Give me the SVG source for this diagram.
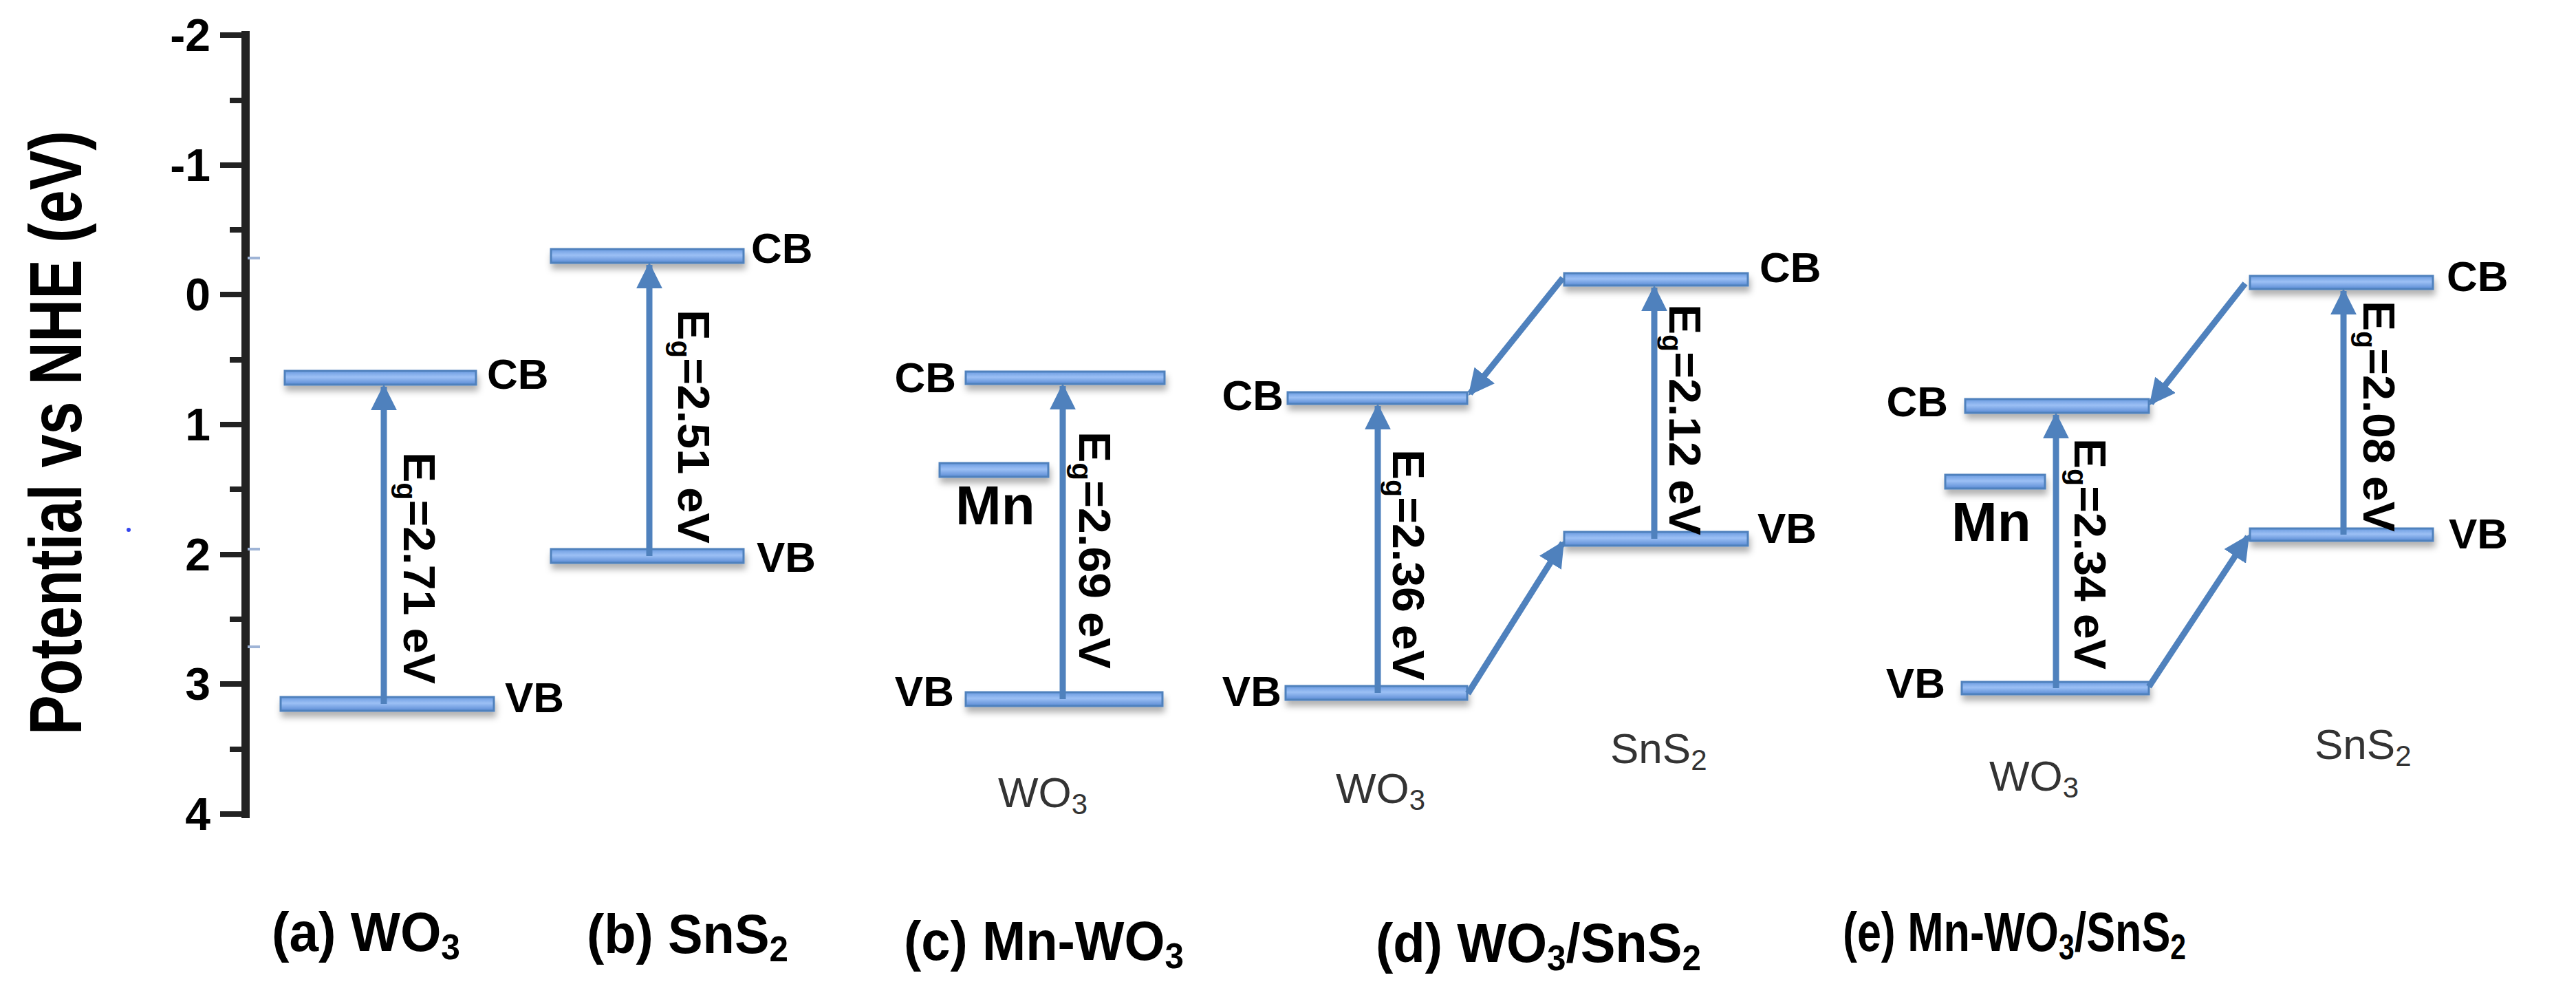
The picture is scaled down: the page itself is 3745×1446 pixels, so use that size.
<svg xmlns="http://www.w3.org/2000/svg" width="3745" height="1446" viewBox="0 0 3745 1446">
<defs>
<linearGradient id="barg" x1="0" y1="0" x2="0" y2="1">
<stop offset="0" stop-color="#6b9be0"/><stop offset="0.45" stop-color="#9cc0f5"/><stop offset="1" stop-color="#5a8bd4"/>
</linearGradient>
<filter id="sh" x="-10%" y="-50%" width="120%" height="300%">
<feDropShadow dx="2" dy="8" stdDeviation="5" flood-color="#000" flood-opacity="0.3"/>
</filter>
<marker id="ah" viewBox="0 0 10 10" refX="9" refY="5" markerWidth="4.2" markerHeight="4.2" orient="auto" markerUnits="strokeWidth">
<path d="M0,0 L10,5 L0,10 z" fill="#4f81bd"/>
</marker>
<style>
.bar{fill:url(#barg);stroke:#4f81bd;stroke-width:3;filter:url(#sh)}
.ln{stroke:#4f81bd;stroke-width:9;fill:none}
.lab{font-family:"Liberation Sans",Arial,sans-serif;font-weight:bold;font-size:62px;fill:#000}
.eg{font-family:"Liberation Sans",Arial,sans-serif;font-weight:bold;font-size:64px;fill:#000}
.mn{font-family:"Liberation Sans",Arial,sans-serif;font-weight:bold;font-size:80px;fill:#000}
.sub{font-family:"Liberation Sans",Arial,sans-serif;font-size:62px;fill:#333}
.cap{font-family:"Liberation Sans",Arial,sans-serif;font-weight:bold;font-size:80px;fill:#000}
.tk{font-family:"Liberation Sans",Arial,sans-serif;font-weight:bold;font-size:66px;fill:#000;text-anchor:end}
.axis{stroke:#222;stroke-width:12;fill:none}
.tick{stroke:#222;stroke-width:8}
</style>
</defs>
<rect width="3745" height="1446" fill="#fff"/>

<g id="axis">
<line class="axis" x1="357" y1="45" x2="357" y2="1189"/>
<g class="tick">
<line x1="320" y1="51" x2="357" y2="51"/><line x1="320" y1="240" x2="357" y2="240"/><line x1="320" y1="428" x2="357" y2="428"/><line x1="320" y1="617" x2="357" y2="617"/><line x1="320" y1="806" x2="357" y2="806"/><line x1="320" y1="994" x2="357" y2="994"/><line x1="320" y1="1183" x2="357" y2="1183"/>
<line x1="334" y1="146" x2="357" y2="146"/><line x1="334" y1="334" x2="357" y2="334"/><line x1="334" y1="523" x2="357" y2="523"/><line x1="334" y1="711" x2="357" y2="711"/><line x1="334" y1="900" x2="357" y2="900"/><line x1="334" y1="1089" x2="357" y2="1089"/>
</g>
<g stroke="#9fb4d6" stroke-width="4">
<line x1="360" y1="375" x2="378" y2="375"/><line x1="360" y1="798" x2="378" y2="798"/><line x1="360" y1="940" x2="378" y2="940"/>
</g>
<text class="tk" x="306" y="74">-2</text>
<text class="tk" x="306" y="263">-1</text>
<text class="tk" x="306" y="451">0</text>
<text class="tk" x="306" y="640">1</text>
<text class="tk" x="306" y="829">2</text>
<text class="tk" x="306" y="1017">3</text>
<text class="tk" x="306" y="1206">4</text>
<text transform="translate(118,1068) rotate(-90)" font-family="'Liberation Sans',Arial,sans-serif" font-weight="bold" font-size="108" textLength="878" lengthAdjust="spacingAndGlyphs">Potential vs NHE (eV)</text>
<circle cx="187" cy="770" r="3" fill="#3344ee"/>
</g>

<g id="zero-line"><line x1="322" y1="431" x2="3722" y2="431" stroke="#4f81bd" stroke-width="12" filter="url(#sh)"/></g>

<g id="panel-a">
<rect class="bar" x="414" y="539" width="278" height="20"/>
<rect class="bar" x="408" y="1013" width="310" height="20"/>
<text class="lab" x="708" y="565">CB</text>
<text class="lab" x="734" y="1035">VB</text>
<text class="eg" transform="translate(587,657) rotate(90)" textLength="337" lengthAdjust="spacingAndGlyphs">E<tspan font-size="40" dy="10">g</tspan><tspan dy="-10">=2.71 eV</tspan></text>
</g>
<g id="panel-b">
<rect class="bar" x="801" y="362" width="280" height="20"/>
<rect class="bar" x="801" y="798" width="280" height="20"/>
<text class="lab" x="1092" y="382">CB</text>
<text class="lab" x="1100" y="831">VB</text>
<text class="eg" transform="translate(986,450) rotate(90)" textLength="340" lengthAdjust="spacingAndGlyphs">E<tspan font-size="40" dy="10">g</tspan><tspan dy="-10">=2.51 eV</tspan></text>
</g>
<g id="panel-c">
<rect class="bar" x="1404" y="540" width="289" height="18"/>
<rect class="bar" x="1366" y="673" width="158" height="20"/>
<rect class="bar" x="1404" y="1006" width="286" height="20"/>
<text class="lab" x="1390" y="570" text-anchor="end">CB</text>
<text class="lab" x="1387" y="1026" text-anchor="end">VB</text>
<text class="mn" x="1389" y="762">Mn</text>
<text class="eg" transform="translate(1569,627) rotate(90)" textLength="345" lengthAdjust="spacingAndGlyphs">E<tspan font-size="40" dy="10">g</tspan><tspan dy="-10">=2.69 eV</tspan></text>
<text class="sub" x="1451" y="1173">WO<tspan font-size="42" dy="10">3</tspan></text>
</g>
<g id="panel-d">
<rect class="bar" x="1872" y="570" width="261" height="17"/>
<rect class="bar" x="1869" y="997" width="264" height="20"/>
<rect class="bar" x="2274" y="397" width="267" height="18"/>
<rect class="bar" x="2274" y="773" width="267" height="20"/>
<text class="lab" x="1866" y="596" text-anchor="end">CB</text>
<text class="lab" x="1863" y="1026" text-anchor="end">VB</text>
<text class="lab" x="2558" y="410">CB</text>
<text class="lab" x="2555" y="789">VB</text>
<text class="eg" transform="translate(2025,653) rotate(90)" textLength="336" lengthAdjust="spacingAndGlyphs">E<tspan font-size="40" dy="10">g</tspan><tspan dy="-10">=2.36 eV</tspan></text>
<text class="eg" transform="translate(2427,442) rotate(90)" textLength="336" lengthAdjust="spacingAndGlyphs">E<tspan font-size="40" dy="10">g</tspan><tspan dy="-10">=2.12 eV</tspan></text>
<text class="sub" x="1942" y="1167">WO<tspan font-size="42" dy="10">3</tspan></text>
<text class="sub" x="2341" y="1109">SnS<tspan font-size="42" dy="10">2</tspan></text>
</g>
<g id="panel-e">
<rect class="bar" x="2857" y="580" width="267" height="20"/>
<rect class="bar" x="2828" y="690" width="145" height="20"/>
<rect class="bar" x="2852" y="991" width="272" height="18"/>
<rect class="bar" x="3271" y="401" width="266" height="19"/>
<rect class="bar" x="3271" y="768" width="266" height="18"/>
<text class="lab" x="2832" y="605" text-anchor="end">CB</text>
<text class="lab" x="2828" y="1014" text-anchor="end">VB</text>
<text class="mn" x="2837" y="786">Mn</text>
<text class="lab" x="3557" y="423">CB</text>
<text class="lab" x="3560" y="797">VB</text>
<text class="eg" transform="translate(3016,637) rotate(90)" textLength="336" lengthAdjust="spacingAndGlyphs">E<tspan font-size="40" dy="10">g</tspan><tspan dy="-10">=2.34 eV</tspan></text>
<text class="eg" transform="translate(3436,437) rotate(90)" textLength="336" lengthAdjust="spacingAndGlyphs">E<tspan font-size="40" dy="10">g</tspan><tspan dy="-10">=2.08 eV</tspan></text>
<text class="sub" x="2892" y="1149">WO<tspan font-size="42" dy="10">3</tspan></text>
<text class="sub" x="3365" y="1103">SnS<tspan font-size="42" dy="10">2</tspan></text>
</g>

<g id="connectors">
<line class="ln" x1="558" y1="1023" x2="558" y2="562" marker-end="url(#ah)"/>
<line class="ln" x1="944" y1="808" x2="944" y2="385" marker-end="url(#ah)"/>
<line class="ln" x1="1545" y1="1016" x2="1545" y2="561" marker-end="url(#ah)"/>
<line class="ln" x1="2003" y1="1007" x2="2003" y2="590" marker-end="url(#ah)"/>
<line class="ln" x1="2405" y1="783" x2="2405" y2="418" marker-end="url(#ah)"/>
<line class="ln" x1="2989" y1="1000" x2="2989" y2="603" marker-end="url(#ah)"/>
<line class="ln" x1="3407" y1="777" x2="3407" y2="423" marker-end="url(#ah)"/>
<line class="ln" x1="2272" y1="404" x2="2137" y2="572" marker-end="url(#ah)"/>
<line class="ln" x1="2134" y1="1008" x2="2272" y2="789" marker-end="url(#ah)"/>
<line class="ln" x1="3264" y1="412" x2="3127" y2="586" marker-end="url(#ah)"/>
<line class="ln" x1="3124" y1="998" x2="3268" y2="780" marker-end="url(#ah)"/>
</g>

<g id="captions">
<text class="cap" x="395" y="1382" textLength="274" lengthAdjust="spacingAndGlyphs">(a) WO<tspan font-size="52" dy="12">3</tspan></text>
<text class="cap" x="853" y="1385" textLength="293" lengthAdjust="spacingAndGlyphs">(b) SnS<tspan font-size="52" dy="12">2</tspan></text>
<text class="cap" x="1314" y="1395" textLength="407" lengthAdjust="spacingAndGlyphs">(c) Mn-WO<tspan font-size="52" dy="12">3</tspan></text>
<text class="cap" x="2000" y="1398" textLength="473" lengthAdjust="spacingAndGlyphs">(d) WO<tspan font-size="52" dy="12">3</tspan><tspan dy="-12">/SnS</tspan><tspan font-size="52" dy="12">2</tspan></text>
<text class="cap" x="2679" y="1382" textLength="499" lengthAdjust="spacingAndGlyphs">(e) Mn-WO<tspan font-size="52" dy="12">3</tspan><tspan dy="-12">/SnS</tspan><tspan font-size="52" dy="12">2</tspan></text>
</g>
</svg>
